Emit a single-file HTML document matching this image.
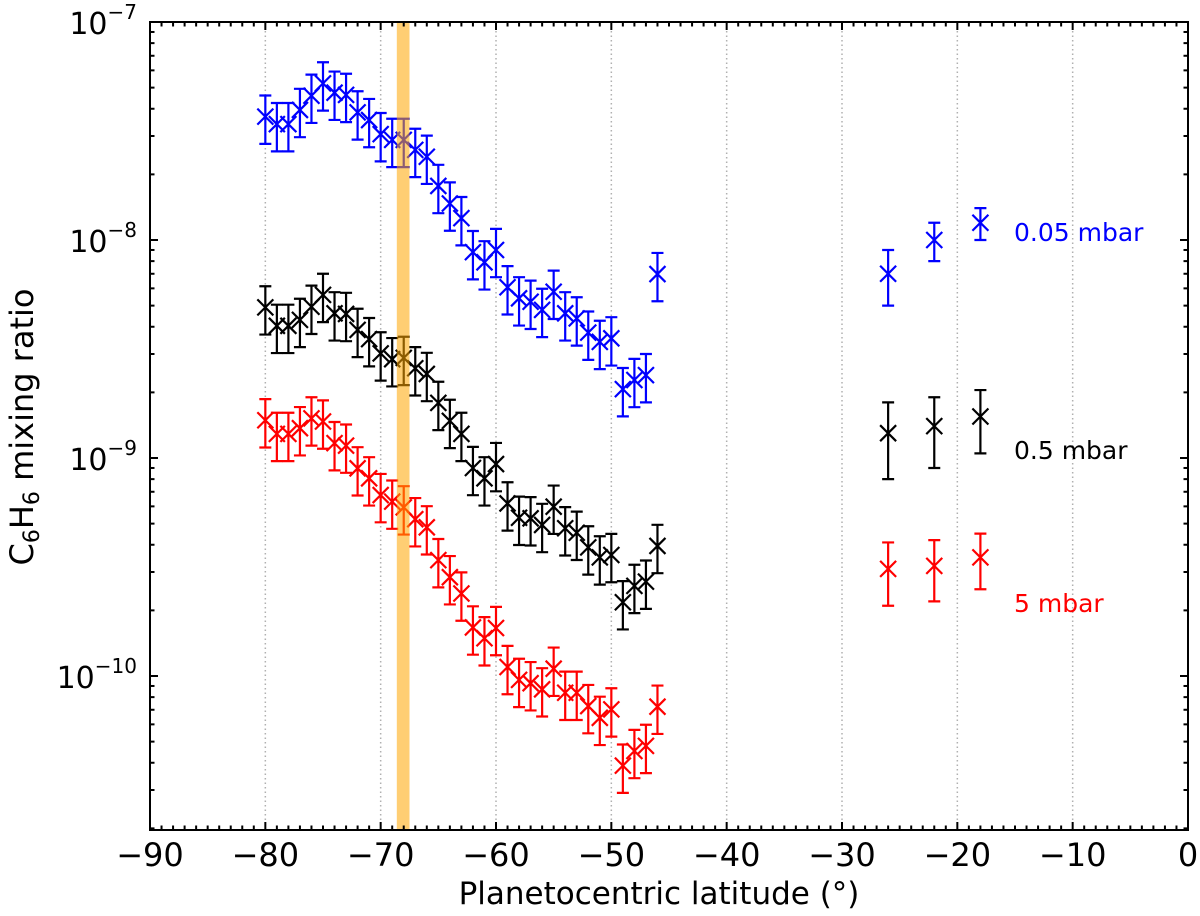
<!DOCTYPE html>
<html><head><meta charset="utf-8"><style>
html,body{margin:0;padding:0;background:#fff;}
svg{display:block;font-family:"DejaVu Sans","Liberation Sans",sans-serif;}
</style></head><body>
<svg id="chart" width="1200" height="916" viewBox="0 0 1200 916" xmlns="http://www.w3.org/2000/svg"></svg>
<script>
const lats = [-80,-79,-78,-77,-76,-75,-74,-73,-72,-71,-70,-69,-68,-67,-66,-65,-64,-63,-62,-61,-60,-59,-58,-57,-56,-55,-54,-53,-52,-51,-50,-49,-48,-47,-46];
const blueVals = [3.68e-8,3.40e-8,3.40e-8,3.95e-8,4.59e-8,5.23e-8,4.74e-8,4.63e-8,3.85e-8,3.55e-8,3.06e-8,2.88e-8,2.88e-8,2.59e-8,2.41e-8,1.77e-8,1.47e-8,1.26e-8,8.8e-9,7.9e-9,9.0e-9,6.07e-9,5.4e-9,5.21e-9,4.78e-9,5.79e-9,4.61e-9,4.37e-9,3.76e-9,3.41e-9,3.54e-9,2.07e-9,2.28e-9,2.40e-9,6.98e-9];
const blackVals = [4.91e-9,4.04e-9,4.04e-9,4.30e-9,4.94e-9,5.60e-9,4.61e-9,4.58e-9,3.87e-9,3.51e-9,3.02e-9,2.84e-9,2.88e-9,2.58e-9,2.43e-9,1.79e-9,1.48e-9,1.29e-9,9.0e-10,8.07e-10,9.38e-10,6.19e-10,5.32e-10,5.29e-10,4.93e-10,5.98e-10,4.76e-10,4.54e-10,3.89e-10,3.50e-10,3.59e-10,2.18e-10,2.59e-10,2.71e-10,3.95e-10];
const redVals = [1.49e-9,1.29e-9,1.29e-9,1.37e-9,1.52e-9,1.47e-9,1.17e-9,1.14e-9,8.97e-10,8.07e-10,6.76e-10,6.31e-10,5.94e-10,5.24e-10,4.81e-10,3.40e-10,2.84e-10,2.39e-10,1.67e-10,1.49e-10,1.66e-10,1.10e-10,9.6e-11,9.27e-11,8.69e-11,1.08e-10,8.38e-11,8.38e-11,7.28e-11,6.43e-11,7.03e-11,3.88e-11,4.53e-11,4.78e-11,7.23e-11];
const relErr = 0.25;
const farLats = [-26,-22,-18];
const blueFar = [7.0e-9,1.0e-8,1.2e-8];
const blueFarErr = [2.0e-9,2.0e-9,2.0e-9];
const blackFar = [1.3e-9,1.4e-9,1.55e-9];
const blackFarErr = [0.5e-9,0.5e-9,0.5e-9];
const redFar = [3.1e-10,3.2e-10,3.5e-10];
const redFarErr = [1.0e-10,1.0e-10,1.0e-10];
const xTicks = [-90,-80,-70,-60,-50,-40,-30,-20,-10,0];
const yTickExps = [-7,-8,-9,-10];
const band = [-68.6,-67.5];
</script>
<script>
const svg=document.getElementById('chart');
const NS='http://www.w3.org/2000/svg';
const L=150,R=1188,T=22,B=830;
const X=v=>L+(v+90)/90*(R-L);
const Y=v=>T+(-7-Math.log10(v))*218;
function mk(tag,attrs,parent){const e=document.createElementNS(NS,tag);for(const k in attrs)e.setAttribute(k,attrs[k]);(parent||svg).appendChild(e);return e;}
const grid=mk('g',{});


xTicks.slice(1,-1).forEach(t=>{const l=mk('line',{x1:X(t),x2:X(t),y1:T,y2:B,stroke:'#b0b0b0','stroke-width':1.5,'stroke-dasharray':'1.5,3'},grid);

});
function series(vals,lx,errs,col,name){
  const g=mk('g',{stroke:col,'stroke-width':2.2,fill:'none'});
  
  
  vals.forEach((v,i)=>{
    const x=X(lx[i]),y=Y(v);const e=errs?errs[i]:v*relErr;
    const yt=Y(v+e),yb=Y(Math.max(v-e,1e-13));
    const p=mk('path',{d:`M${x},${yt}V${yb}M${x-6},${yt}H${x+6}M${x-6},${yb}H${x+6}M${x-8},${y-8}L${x+8},${y+8}M${x-8},${y+8}L${x+8},${y-8}`},g);
    
    
  });
}
series(blueVals,lats,null,'#0000ff','series-0.05-mbar');
series(blueFar,farLats,blueFarErr,'#0000ff','series-0.05-mbar-far');
series(blackVals,lats,null,'#000000','series-0.5-mbar');
series(blackFar,farLats,blackFarErr,'#000000','series-0.5-mbar-far');
series(redVals,lats,null,'#ff0000','series-5-mbar');
series(redFar,farLats,redFarErr,'#ff0000','series-5-mbar-far');
const bd=mk('rect',{x:X(band[0]),y:T,width:X(band[1])-X(band[0]),height:B-T,fill:'rgba(255,165,0,0.55)'});


const ax=mk('g',{stroke:'#000','stroke-width':2});


mk('rect',{x:L,y:T,width:R-L,height:B-T,fill:'none'},ax);
for(let t=-90;t<=0;t++){const maj=t%10===0;const len=maj?8:4.5;
  mk('line',{x1:X(t),x2:X(t),y1:B,y2:B-len},ax);mk('line',{x1:X(t),x2:X(t),y1:T,y2:T+len},ax);}
for(let ex=-11;ex<=-8;ex++){for(let m=1;m<=9;m++){const v=m*Math.pow(10,ex);const y=Y(v);if(y<T-0.5||y>B)continue;const len=m===1?8:4.5;
  mk('line',{x1:L,x2:L+len,y1:y,y2:y},ax);mk('line',{x1:R,x2:R-len,y1:y,y2:y},ax);}}
xTicks.forEach(t=>{const tx=mk('text',{x:X(t),y:866,'font-size':32,'text-anchor':'middle',fill:'#000'});
tx.textContent=(t<0?'\u2212':'')+Math.abs(t);

});
yTickExps.forEach(ex=>{const y=Y(Math.pow(10,ex));const tx=mk('text',{x:137,y:y+12,'font-size':30,'text-anchor':'end',fill:'#000'});
tx.innerHTML=`10<tspan font-size="20" dy="-15">\u2212${-ex}</tspan>`;

});
const xt=mk('text',{x:659,y:904,'font-size':31,'text-anchor':'middle',fill:'#000'});
xt.textContent='Planetocentric latitude (°)';


const yt=mk('text',{x:0,y:0,'font-size':32,'text-anchor':'middle',fill:'#000',transform:'translate(33,427) rotate(-90)'});
yt.innerHTML='C<tspan font-size="22" dy="6">6</tspan><tspan dy="-6">H</tspan><tspan font-size="22" dy="6">6</tspan><tspan dy="-6"> mixing ratio</tspan>';


[['0.05 mbar','#0000ff',241,'label-0.05-mbar'],['0.5 mbar','#000',459,'label-0.5-mbar'],['5 mbar','#ff0000',612,'label-5-mbar']].forEach(a=>{
const t=mk('text',{x:1014,y:a[2],'font-size':25,fill:a[1]});t.textContent=a[0];

});
</script>
</body></html>
